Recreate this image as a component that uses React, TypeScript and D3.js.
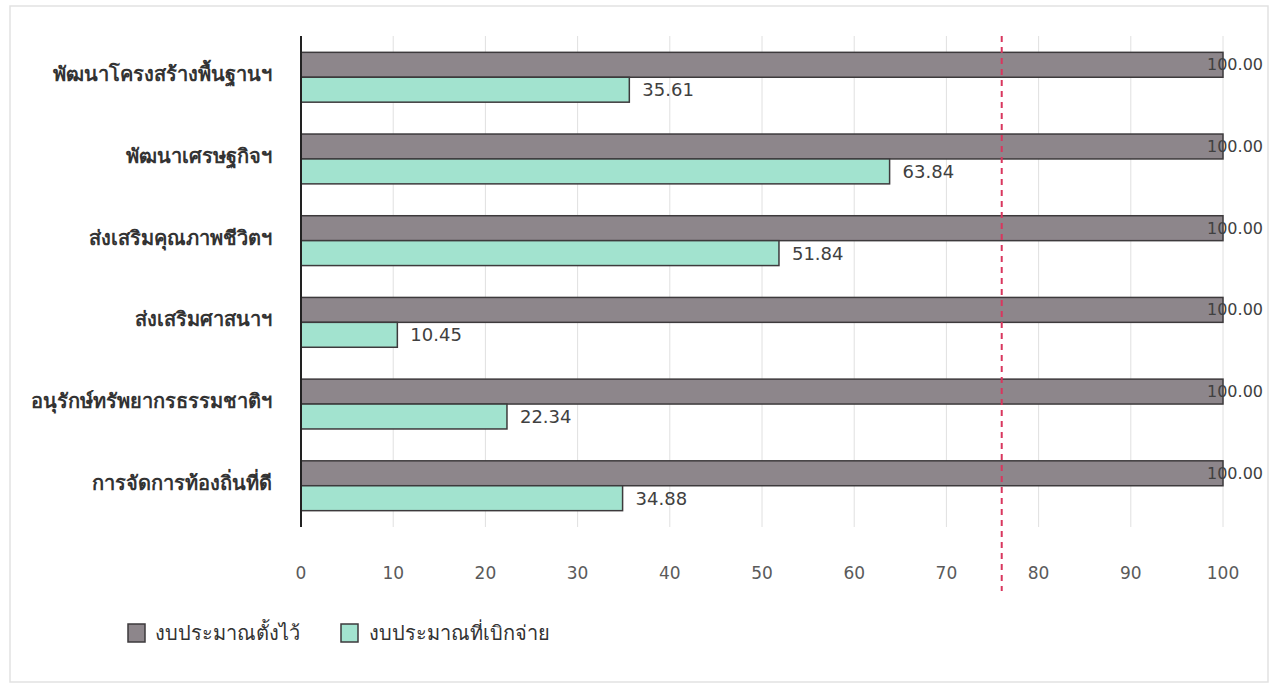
import React from "react"
import * as d3 from "d3"

// data
const categories = [
  "พัฒนาโครงสร้างพื้นฐานฯ",
  "พัฒนาเศรษฐกิจฯ",
  "ส่งเสริมคุณภาพชีวิตฯ",
  "ส่งเสริมศาสนาฯ",
  "อนุรักษ์ทรัพยากรธรรมชาติฯ",
  "การจัดการท้องถิ่นที่ดี",
]
const budgetSet = [100, 100, 100, 100, 100, 100]
const budgetSpent = [35.61, 63.84, 51.84, 10.45, 22.34, 34.88]
const seriesNames = ["งบประมาณตั้งไว้", "งบประมาณที่เบิกจ่าย"]
const xTicks = [0, 10, 20, 30, 40, 50, 60, 70, 80, 90, 100]
const targetLine = 76

const W = 1278, H = 685
const left = 301, right = 1223, top = 36, bottom = 527
const grayFill = "#8d868b"
const tealFill = "#a2e3cf"
const textFont = "'DejaVu Sans', Tahoma, sans-serif"

export default function App() {
  const x = d3.scaleLinear().domain([0, 100]).range([left, right])
  const y = d3.scaleBand<string>()
    .domain(categories)
    .range([top, bottom])
    .paddingInner(0.39)
    .paddingOuter(0.2)
  const sub = d3.scaleBand<number>().domain([0, 1]).range([0, y.bandwidth()])

  return (
    <svg width={W} height={H} style={{ position: "absolute", left: 0, top: 0, background: "#fff" }}>
      <rect x={10} y={6} width={1258} height={676} fill="#fff" stroke="#e2e2e2" strokeWidth={1.5} />

      {/* vertical grid */}
      {xTicks.slice(1).map(t => (
        <line key={"g" + t} x1={x(t)} x2={x(t)} y1={top} y2={bottom} stroke="#e0e0e0" strokeWidth={1} />
      ))}

      {categories.map((c, i) => {
        const y0 = y(c)!
        const gy = y0 + sub(0)!
        const ty = y0 + sub(1)!
        const bh = sub.bandwidth()
        return (
          <g key={c}>
            <rect x={x(0)} y={gy} width={x(budgetSet[i]) - x(0)} height={bh}
              fill={grayFill} stroke="#3d3a3c" strokeWidth={1.5} />
            <rect x={x(0)} y={ty} width={x(budgetSpent[i]) - x(0)} height={bh}
              fill={tealFill} stroke="#3d3a3c" strokeWidth={1.5} />
            <text x={x(budgetSet[i]) - 16} y={gy + 18} fontFamily={textFont} fontSize={16} fill="#404040">
              {budgetSet[i].toFixed(2)}
            </text>
            <text x={x(budgetSpent[i]) + 13} y={ty + 19} fontFamily={textFont} fontSize={18} fill="#404040">
              {budgetSpent[i].toFixed(2)}
            </text>
            <text x={272} y={y0 + y.bandwidth() / 2 + 4} textAnchor="end" fontFamily="'Noto Sans', sans-serif"
              fontWeight="bold" fontSize={20} fill="#333">
              {c}
            </text>
          </g>
        )
      })}

      {/* y axis */}
      <line x1={x(0)} x2={x(0)} y1={top} y2={bottom} stroke="#222" strokeWidth={2} />

      {/* target line */}
      <line x1={x(targetLine)} x2={x(targetLine)} y1={top} y2={591} stroke="#d9365e"
        strokeWidth={2} strokeDasharray="6,5" />

      {/* x tick labels */}
      {xTicks.map(t => (
        <text key={"t" + t} x={x(t)} y={579} textAnchor="middle" fontFamily={textFont} fontSize={17} fill="#5a5a5a">
          {t}
        </text>
      ))}

      {/* legend */}
      <rect x={128} y={624} width={17} height={18} fill={grayFill} stroke="#3d3a3c" strokeWidth={1.5} />
      <text x={155} y={640} fontFamily="'Noto Sans', sans-serif" fontSize={20} fill="#333">{seriesNames[0]}</text>
      <rect x={341} y={624} width={17} height={18} fill={tealFill} stroke="#3d3a3c" strokeWidth={1.5} />
      <text x={369} y={640} fontFamily="'Noto Sans', sans-serif" fontSize={20} fill="#333">{seriesNames[1]}</text>
    </svg>
  )
}
